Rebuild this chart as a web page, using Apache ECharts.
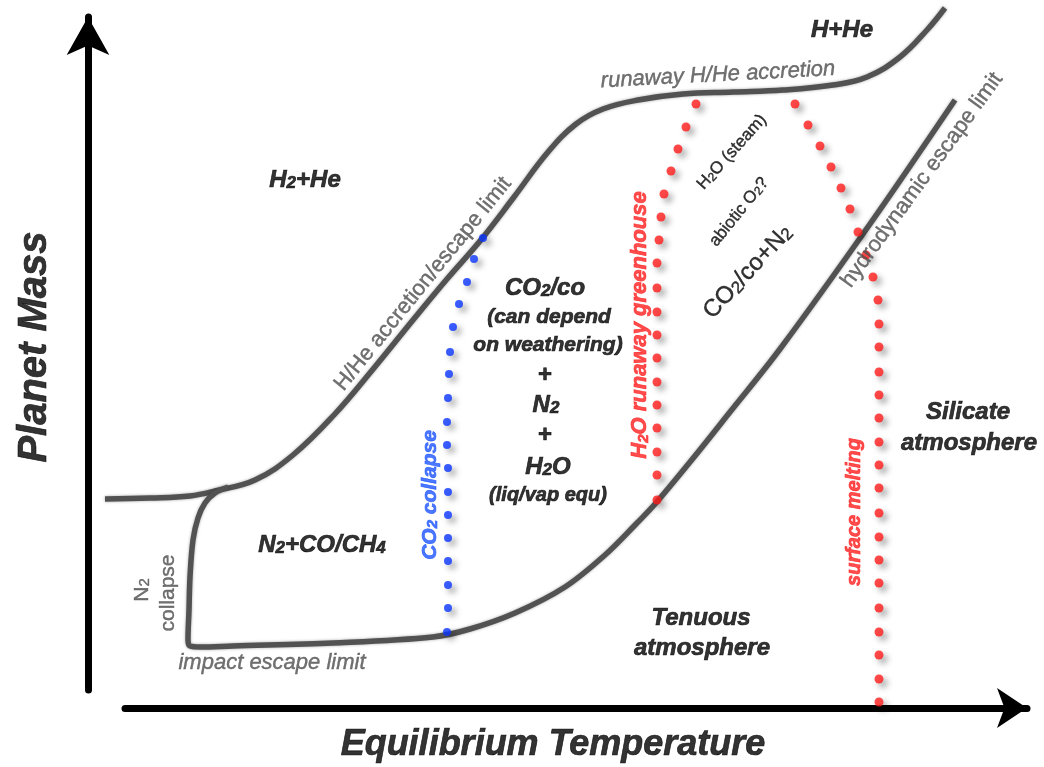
<!DOCTYPE html>
<html>
<head>
<meta charset="utf-8">
<script src="https://cdn.jsdelivr.net/npm/echarts@6/dist/echarts.min.js"></script>
<style>
html,body{margin:0;padding:0;background:#fff;}
#chart{width:1044px;height:767px;}
</style>
</head>
<body>
<div id="chart"></div>
<script>
// Schematic units: temperature (x) 0..1044, planet mass (y) 0..767
const accretionLimit = [
  [105,268],[150,269],[190,271],[215,276],[255,287],[293,312],[334,352],[374,399],
  [413,447],[447,488],[480,526],[514,570],[548,615],[576,643],[603,658],[638,667],
  [683,673],[733,675],[783,677],[833,682],[867,690],[900,710],[927,737],[945,759]
];
const lowerLimit = [
  [228,280],[215,274],[205,264],[198,249],[193,227],[190,190],[189,157],[188,127],
  [190,121],[200,120],[233,121],[333,124],[433,130],[470,138],[515,154],[565,180],
  [605,212],[637,244],[655,263],[690,305],[730,355],[780,418],[870,543],[955,667]
];
const co2Collapse = [
  [483,529],[474,508],[467,485],[459,463],[453,440],[450,415],[449,393],[448,369],
  [447,345],[447,322],[448,299],[448,275],[448,252],[448,229],[448,206],[448,182],
  [448,159],[447,135]
];
const runawayGreenhouse = [
  [696,663],[686,640],[678,618],[671,596],[664,573],[661,550],[659,527],[657,504],
  [657,479],[657,455],[657,432],[657,409],[657,385],[657,362],[657,339],[657,315],
  [657,292],[657,267]
];
const surfaceMelting = [
  [795,663],[808,642],[820,621],[831,600],[841,579],[850,558],[858,535],[866,512],
  [873,490],[878,467],[879,443],[879,420],[879,395],[879,372],[879,349],[879,325],
  [879,302],[879,279],[879,254],[879,230],[879,207],[879,184],[879,159],[879,135],
  [879,112],[879,88],[879,65]
];
const labelTexts = [
  'Planet Mass','Equilibrium Temperature','H+He','runaway H/He accretion','H{s|2}+He',
  'H/He accretion/escape limit','CO{s|2}/co','(can depend','on weathering)','+','N{s|2}','+',
  'H{s|2}O','(liq/vap equ)','CO{s|2} collapse','H{s|2}O runaway greenhouse','H{s|2}O (steam)',
  'abiotic O{s|2}?','CO{s|2}/co+N{s|2}','hydrodynamic escape limit','Silicate','atmosphere',
  'Tenuous','atmosphere','surface melting','N{s|2}+CO/CH{s|4}','N{s|2}','collapse','impact escape limit'
];
const labelAnchors = [
  [35,420],[553,22],[842,737],[718,692],[305,587],
  [423,483],[545,479],[549,450],[548,422],[545,392],[546,362],[545,332],
  [548,300],[548,272],[430,272],[640,442],[732,615],
  [739,555],[748,495],[922,587],[968,355],[969,324],
  [701,149],[702,119],[854,255],[322,222],[142,177],[168,174],[272,104]
];

const SANS = "'Liberation Sans', Arial, Helvetica, sans-serif";
const BLACK = '#000', GRAY = '#4d4d4d', RED = '#ff2020', BLUE = '#1f55ff';
// style per label: [fontSize, weight, italic, color, rotate]
const labelStyles = [
  [40,'bold',true,BLACK,90],[36,'bold',true,BLACK,0],[24,'bold',true,BLACK,0],
  [22,'normal',true,GRAY,3],[24,'bold',true,BLACK,0],
  [22,'normal',false,GRAY,51],[24,'bold',true,BLACK,0],[21,'bold',true,BLACK,0],
  [21,'bold',true,BLACK,0],[24,'bold',false,BLACK,0],[24,'bold',true,BLACK,0],
  [24,'bold',false,BLACK,0],[24,'bold',true,BLACK,0],[20,'bold',true,BLACK,0],
  [21,'bold',true,BLUE,90],[22,'bold',true,RED,90],[17,'normal',false,BLACK,48],
  [17,'normal',false,BLACK,51],[24,'normal',false,BLACK,47],[22,'normal',false,GRAY,54],
  [24,'bold',true,BLACK,0],[24,'bold',true,BLACK,0],
  [24,'bold',true,BLACK,0],[24,'bold',true,BLACK,0],[20,'bold',true,RED,90],
  [24,'bold',true,BLACK,0],[21,'normal',false,GRAY,90],[21,'normal',false,GRAY,90],
  [22,'normal',true,GRAY,0]
];

const labelData = labelTexts.map(function (t, i) {
  const s = labelStyles[i];
  const border = s[1] === 'bold' ? 0.7 : 0.4;
  const base = {fontSize: s[0], fontWeight: s[1], fontStyle: s[2] ? 'italic' : 'normal', color: s[3], fontFamily: SANS,
                textBorderColor: s[3], textBorderWidth: border};
  return {
    value: labelAnchors[i],
    label: Object.assign({
      show: true, position: 'inside', formatter: t, rotate: s[4],
      align: 'center', verticalAlign: 'middle',
      rich: {
        s: Object.assign({}, base, {fontSize: Math.round(s[0] * 0.7), verticalAlign: 'bottom'})
      }
    }, base)
  };
});

const curveStyle = {color: '#525252', width: 5.5, shadowColor: 'rgba(0,0,0,0.35)', shadowBlur: 3};
const dotShadow = {shadowColor: 'rgba(0,0,0,0.45)', shadowBlur: 6, shadowOffsetX: 4, shadowOffsetY: 4};

const chart = echarts.init(document.getElementById('chart'), null, {renderer: 'canvas'});
chart.setOption({
  animation: false,
  backgroundColor: '#fff',
  grid: [
    {left: 0, right: 0, top: 0, bottom: 0},
    {left: 88, top: 17, bottom: 77, width: 1},
    {left: 125, right: 17, bottom: 59, height: 1}
  ],
  xAxis: [
    {gridIndex: 0, type: 'value', min: 0, max: 1044, show: false},
    {gridIndex: 1, type: 'value', show: false},
    {gridIndex: 2, type: 'value', min: 0, max: 1, axisLabel: {show: false}, axisTick: {show: false}, splitLine: {show: false},
     axisLine: {show: true, symbol: ['none', 'arrow'], symbolSize: [30, 30], lineStyle: {color: '#000', width: 7}}}
  ],
  yAxis: [
    {gridIndex: 0, type: 'value', min: 0, max: 767, show: false},
    {gridIndex: 1, type: 'value', min: 0, max: 1, axisLabel: {show: false}, axisTick: {show: false}, splitLine: {show: false},
     axisLine: {show: true, symbol: ['none', 'arrow'], symbolSize: [32, 38], lineStyle: {color: '#000', width: 7}}},
    {gridIndex: 2, type: 'value', show: false}
  ],
  series: [
    {type: 'line', name: 'H/He accretion/escape limit', data: accretionLimit, smooth: 0.4, symbol: 'none',
     lineStyle: curveStyle, silent: true, z: 2},
    {type: 'line', name: 'collapse / impact / hydrodynamic limit', data: lowerLimit, smooth: 0.35, symbol: 'none',
     lineStyle: curveStyle, silent: true, z: 2},
    {type: 'scatter', name: 'CO2 collapse', data: co2Collapse, symbolSize: 8,
     itemStyle: Object.assign({color: '#0a35ff'}, dotShadow), silent: true, z: 3},
    {type: 'scatter', name: 'H2O runaway greenhouse', data: runawayGreenhouse, symbolSize: 9,
     itemStyle: Object.assign({color: '#ff1a1a'}, dotShadow), silent: true, z: 3},
    {type: 'scatter', name: 'surface melting', data: surfaceMelting, symbolSize: 9,
     itemStyle: Object.assign({color: '#ff1a1a'}, dotShadow), silent: true, z: 3},
    {type: 'scatter', name: 'labels', data: labelData, symbolSize: 1, itemStyle: {color: 'rgba(0,0,0,0)'},
     silent: true, z: 5}
  ]
});
</script>
</body>
</html>
